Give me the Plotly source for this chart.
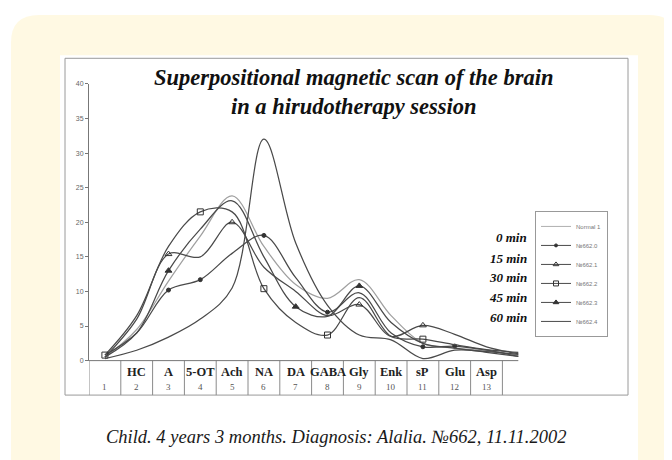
import plotly.graph_objects as go

W, H = 672, 460

# ---------------- data ----------------
x_idx = [1, 2, 3, 4, 5, 6, 7, 8, 9, 10, 11, 12, 13, 14]
normal_1 = [0.5, 4.5, 11.5, 18.0, 23.8, 16.5, 11.0, 9.0, 11.7, 6.5, 2.5, 1.8, 1.4, 0.8]
n662_0 = [0.8, 4.0, 10.2, 11.7, 15.5, 18.1, 12.0, 7.0, 9.8, 4.0, 2.0, 2.1, 1.5, 0.6]
n662_1 = [0.5, 6.0, 15.4, 15.0, 20.0, 13.5, 10.0, 6.5, 8.1, 3.5, 5.1, 3.8, 2.0, 1.0]
n662_2 = [0.8, 6.5, 16.5, 21.5, 21.5, 10.4, 5.5, 3.7, 9.1, 3.5, 3.1, 2.3, 1.6, 1.2]
n662_3 = [0.5, 4.0, 13.0, 19.0, 23.1, 15.0, 7.8, 6.4, 10.8, 5.5, 2.5, 1.8, 1.2, 0.6]
n662_4 = [0.3, 1.5, 3.4, 6.0, 10.5, 32.0, 17.0, 8.0, 3.7, 3.0, 0.3, 1.5, 1.3, 0.9]

series_names = ["Normal 1", "№662.0", "№662.1", "№662.2", "№662.3", "№662.4"]
session_labels = ["0 min", "15 min", "30 min", "45 min", "60 min"]
category_labels = ["", "HC", "A", "5-OT", "Ach", "NA", "DA", "GABA", "Gly", "Enk", "sP", "Glu", "Asp"]
column_numbers = ["1", "2", "3", "4", "5", "6", "7", "8", "9", "10", "11", "12", "13"]
y_ticks = [0, 5, 10, 15, 20, 25, 30, 35, 40]
title_text = "Superpositional magnetic scan of the brain<br>in a hirudotherapy session"
caption_text = "Child. 4 years 3 months. Diagnosis: Alalia. №662, 11.11.2002"

# ---------------- styles ----------------
series_values = [normal_1, n662_0, n662_1, n662_2, n662_3, n662_4]
line_colors = ["#a0a0a0", "#4a4a4a", "#4a4a4a", "#4a4a4a", "#4a4a4a", "#4a4a4a"]
symbols = [None, "circle", "triangle-up-open", "square-open", "triangle-up", None]
marker_sizes = [0, 4, 6, 6, 6, 0]
marker_points = [[], [3, 4, 6, 8, 11, 12], [3, 5, 9, 11], [1, 4, 6, 8, 11], [3, 7, 9], []]


def px(x):
    return x / W


def py(y):
    return 1 - y / H


PX_PER_UNIT = 31.8
X0_PIX = 81
X1_PIX = 620
x_range = [0.5, 0.5 + (X1_PIX - X0_PIX) / PX_PER_UNIT]

fig = go.Figure()

for name, vals, col, sym, ms, pts in zip(series_names, series_values, line_colors,
                                          symbols, marker_sizes, marker_points):
    fig.add_trace(go.Scatter(
        x=x_idx, y=vals, mode="lines", name=name, legendgroup=name, showlegend=False,
        line=dict(color=col, width=1.25, shape="spline", smoothing=1.0),
        hoverinfo="skip"))
    if sym:
        fig.add_trace(go.Scatter(
            x=[x_idx[i - 1] for i in pts], y=[vals[i - 1] for i in pts], mode="markers",
            legendgroup=name, showlegend=False,
            marker=dict(symbol=sym, size=ms, color="#333", line=dict(color="#333", width=1)),
            hoverinfo="skip"))
    fig.add_trace(go.Scatter(
        x=[None], y=[None], mode="lines+markers" if sym else "lines", name=name,
        legendgroup=name, showlegend=True,
        line=dict(color=col if name != "Normal 1" else "#b0b0b0", width=1),
        marker=dict(symbol=sym if sym else "circle", size=max(ms - 1, 1), color="#333",
                    line=dict(color="#333", width=1))))

# ---------------- shapes ----------------
shapes = []
R = 28
x0c, y0c, x1c, y1c = 3, 3, 669, 480
path = (f"M {px(x0c)} {py(y0c + R)} Q {px(x0c)} {py(y0c)} {px(x0c + R)} {py(y0c)} "
        f"L {px(x1c - R)} {py(y0c)} Q {px(x1c)} {py(y0c)} {px(x1c)} {py(y0c + R)} "
        f"L {px(x1c)} {py(y1c)} L {px(x0c)} {py(y1c)} Z")
shapes.append(dict(type="path", xref="paper", yref="paper", path=path,
                   fillcolor="#FFF9E3", line=dict(width=0), layer="below"))
shapes.append(dict(type="rect", xref="paper", yref="paper", x0=px(52), x1=px(630),
                   y0=py(44), y1=py(470), fillcolor="white", line=dict(width=0), layer="below"))
# frame
shapes.append(dict(type="rect", xref="paper", yref="paper", x0=px(57), x1=px(620),
                   y0=py(47), y1=py(389), line=dict(color="#9a9a9a", width=1), layer="below"))
# table column lines
for k in range(14):
    shapes.append(dict(type="line", xref="x", yref="paper", x0=0.5 + k, x1=0.5 + k,
                       y0=py(354), y1=py(389), line=dict(color="#8a8a8a", width=1)))
# x baseline
shapes.append(dict(type="line", xref="x", yref="paper", x0=0.5, x1=14.0,
                   y0=py(354), y1=py(354), line=dict(color="#777", width=1)))

# ---------------- annotations ----------------
ann = []
ann.append(dict(text=title_text, xref="paper", yref="paper", x=px(346), y=py(81),
                xanchor="center", yanchor="middle", showarrow=False, align="center",
                font=dict(family="Liberation Serif", size=22.5, color="#111",
                          style="italic", weight="bold")))
ann.append(dict(text=caption_text, xref="paper", yref="paper", x=px(328), y=py(432),
                xanchor="center", yanchor="middle", showarrow=False,
                font=dict(family="Liberation Serif", size=18.5, color="#1a1a1a", style="italic")))
for lab, yy in zip(session_labels, [229, 250, 270, 290, 310]):
    ann.append(dict(text=lab, xref="paper", yref="paper", x=px(521), y=py(yy),
                    xanchor="right", yanchor="middle", showarrow=False,
                    font=dict(family="Liberation Serif", size=13, color="#111",
                              style="italic", weight="bold")))
for i, (cat, num) in enumerate(zip(category_labels, column_numbers)):
    if cat:
        ann.append(dict(text=cat, xref="x", yref="paper", x=i + 1, y=py(366),
                        xanchor="center", yanchor="middle", showarrow=False,
                        font=dict(family="Liberation Serif", size=12.5, color="#222",
                                  weight="bold")))
    ann.append(dict(text=num, xref="x", yref="paper", x=i + 1, y=py(381),
                    xanchor="center", yanchor="middle", showarrow=False,
                    font=dict(family="Liberation Serif", size=9, color="#555")))

fig.update_layout(
    width=W, height=H, margin=dict(l=0, r=0, t=0, b=0),
    paper_bgcolor="white", plot_bgcolor="rgba(0,0,0,0)",
    shapes=shapes, annotations=ann,
    showlegend=True,
    legend=dict(x=px(527), y=py(202), xanchor="left", yanchor="top",
                bgcolor="white", bordercolor="#999", borderwidth=1,
                font=dict(family="Liberation Sans", size=6, color="#777"),
                itemwidth=30, tracegroupgap=0),
    xaxis=dict(domain=[px(X0_PIX), px(X1_PIX)], range=x_range, visible=False,
               showgrid=False, zeroline=False),
    yaxis=dict(domain=[py(354), py(73)], range=[0, 40], tickvals=y_ticks,
               showline=True, linecolor="#777", linewidth=1, ticks="outside",
               ticklen=3, tickcolor="#777", showgrid=False, zeroline=False,
               tickfont=dict(family="Liberation Sans", size=7, color="#666")),
)

fig.write_html("out.html")
